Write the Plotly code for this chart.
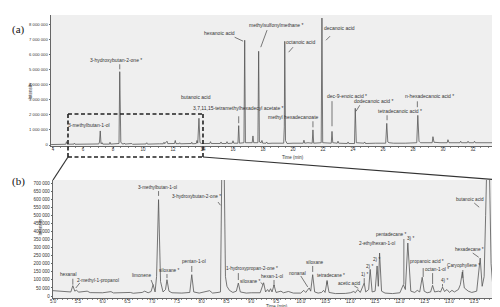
import plotly.graph_objects as go

# ---------------- data ----------------
# (a) full run: retention time (min) and intensity (millions of counts)
a_time = [3.87, 4.50, 4.85, 4.90, 4.95, 5.40, 5.43, 5.47, 6.20, 6.23, 6.26,
          7.05, 7.10, 7.15, 7.20, 7.28, 7.32, 7.77, 7.80, 7.84,
          8.40, 8.45, 8.52, 8.60, 8.72, 8.75, 8.80, 9.22, 9.25, 9.30,
          10.20, 10.25, 10.30, 11.10, 11.35, 11.40, 11.45, 11.55, 11.60, 11.65,
          12.10, 12.15, 12.20, 12.42, 12.45, 12.50, 13.22, 13.25, 13.30,
          13.55, 13.60, 13.65, 13.73, 13.80, 13.90,
          14.45, 14.50, 14.55, 15.15, 15.20, 15.25, 15.55, 15.60, 15.65,
          15.95, 16.00, 16.05, 16.33, 16.38, 16.43, 16.73, 16.78, 16.83,
          17.28, 17.33, 17.38, 17.66, 17.71, 17.76, 17.88, 17.93, 17.98,
          18.20, 18.25, 18.30, 18.60, 19.00, 19.38, 19.42, 19.45, 19.50, 19.55, 19.60,
          20.00, 20.68, 20.73, 20.78, 21.00, 21.28, 21.33, 21.38,
          21.88, 21.93, 21.98, 22.55, 22.60, 22.65, 22.95, 23.00, 23.05,
          23.62, 23.67, 23.72, 24.10, 24.15, 24.22, 24.73, 24.78, 24.83,
          25.50, 26.18, 26.25, 26.32, 26.40, 26.70, 27.50,
          28.25, 28.32, 28.40, 28.50, 29.28, 29.33, 29.40, 29.80,
          30.28, 30.33, 30.40, 31.13, 31.18, 31.23, 31.62, 31.67, 31.72,
          32.05, 32.10, 32.15, 33.00, 33.87]
a_intensity_m = [0.03, 0.04, 0.05, 0.22, 0.05, 0.06, 0.12, 0.05, 0.05, 0.08, 0.05,
                 0.07, 0.20, 0.93, 0.08, 0.15, 0.06, 0.06, 0.18, 0.06,
                 0.10, 4.85, 0.20, 0.08, 0.07, 0.13, 0.06, 0.06, 0.10, 0.05,
                 0.07, 0.15, 0.06, 0.08, 0.08, 0.18, 0.08, 0.20, 0.25, 0.09,
                 0.10, 0.30, 0.09, 0.09, 0.15, 0.08, 0.10, 0.18, 0.08,
                 0.10, 0.30, 0.12, 1.77, 0.15, 0.10,
                 0.10, 0.22, 0.10, 0.10, 0.20, 0.10, 0.10, 0.22, 0.10,
                 0.12, 0.28, 0.12, 0.12, 1.28, 0.12, 0.15, 6.93, 0.15,
                 0.15, 0.60, 0.15, 0.15, 6.20, 0.20, 0.15, 0.30, 0.12,
                 0.12, 0.20, 0.10, 0.12, 0.10, 0.12, 1.20, 6.86, 0.30, 0.15, 0.10,
                 0.12, 0.12, 0.32, 0.12, 0.15, 0.12, 1.00, 0.12,
                 0.15, 8.40, 0.15, 0.12, 0.90, 0.15, 0.12, 0.25, 0.12,
                 0.10, 0.20, 0.10, 0.10, 2.43, 0.15, 0.12, 0.20, 0.10,
                 0.12, 0.12, 1.43, 0.20, 0.15, 0.12, 0.12,
                 0.15, 1.96, 0.25, 0.15, 0.15, 0.55, 0.18, 0.15,
                 0.15, 0.35, 0.15, 0.15, 0.25, 0.15, 0.15, 0.25, 0.15,
                 0.15, 0.25, 0.15, 0.15, 0.15]

# (b) zoom 5-14 min: retention time (min) and intensity (counts)
b_time = [5.00, 5.10, 5.25, 5.36, 5.40, 5.44, 5.47, 5.52, 5.69, 5.75, 6.00,
          6.17, 6.22, 6.50, 6.56, 6.62, 6.80, 6.85, 6.92, 6.98, 7.02, 7.06,
          7.09, 7.13, 7.17, 7.22, 7.27, 7.30, 7.34, 7.40, 7.60, 7.76, 7.80, 7.84,
          7.95, 8.16, 8.22, 8.33, 8.38, 8.41, 8.45, 8.48, 8.51, 8.56, 8.63,
          8.70, 8.74, 8.78, 8.90, 9.00, 9.10, 9.18, 9.25, 9.29, 9.33, 9.36,
          9.39, 9.42, 9.46, 9.50, 9.60, 9.65, 9.75, 9.85, 10.00, 10.06, 10.10,
          10.17, 10.20, 10.24, 10.28, 10.35, 10.42, 10.46, 10.49, 10.53, 10.57,
          10.70, 10.90, 11.00, 11.07, 11.10, 11.15, 11.20, 11.28, 11.31, 11.37,
          11.40, 11.44, 11.50, 11.54, 11.565, 11.59, 11.63, 11.70, 11.85, 12.00,
          12.07, 12.11, 12.16, 12.22, 12.30, 12.35, 12.40, 12.45, 12.49, 12.55,
          12.62, 12.66, 12.70, 12.78, 12.82, 12.86, 12.90, 12.95, 13.00, 13.05,
          13.10, 13.18, 13.22, 13.26, 13.30, 13.38, 13.45, 13.55, 13.62, 13.66,
          13.70, 13.73, 13.76, 13.80, 13.84, 13.87, 13.92, 13.96, 14.02]
b_intensity = [33000, 30000, 27000, 25000, 64000, 30000, 36000, 24000, 30000, 21000, 20000,
               27000, 19000, 18000, 22000, 17000, 22000, 30000, 20000, 28000, 70000, 25000,
               120000, 597000, 90000, 25000, 40000, 101000, 30000, 20000, 18000, 22000, 132000, 25000,
               18000, 33000, 18000, 22000, 25000, 900000, 900000, 120000, 60000, 35000, 22000,
               30000, 80000, 25000, 18000, 20000, 22000, 20000, 82000, 25000, 40000, 26000,
               45000, 25000, 68000, 22000, 30000, 20000, 28000, 18000, 18000, 35000, 22000,
               50000, 30000, 132000, 25000, 18000, 22000, 35000, 22000, 91000, 22000,
               15000, 16000, 20000, 28000, 20000, 40000, 22000, 80000, 25000, 40000,
               165000, 25000, 30000, 186000, 60000, 266000, 30000, 18000, 15000, 20000,
               70000, 40000, 328000, 30000, 22000, 35000, 25000, 116000, 30000, 20000,
               25000, 66000, 25000, 30000, 25000, 55000, 28000, 40000, 22000, 35000,
               25000, 40000, 70000, 149000, 50000, 30000, 22000, 30000, 235000, 60000,
               120000, 500000, 900000, 900000, 200000, 80000, 40000, 60000, 120000]

a_ytick_vals = [0, 1e6, 2e6, 3e6, 4e6, 5e6, 6e6, 7e6, 8e6]
a_ytick_text = ["0", "1 000 000", "2 000 000", "3 000 000", "4 000 000",
                "5 000 000", "6 000 000", "7 000 000", "8 000 000"]
a_xtick_vals = [4, 6, 8, 10, 12, 14, 16, 18, 20, 22, 24, 26, 28, 30, 32]
b_ytick_vals = [0, 50000, 100000, 150000, 200000, 250000, 300000, 350000,
                400000, 450000, 500000, 550000, 600000, 650000, 700000]
b_ytick_text = ["0", "50 000", "100 000", "150 000", "200 000", "250 000", "300 000",
                "350 000", "400 000", "450 000", "500 000", "550 000", "600 000",
                "650 000", "700 000"]
b_xtick_vals = [5.0, 5.5, 6.0, 6.5, 7.0, 7.5, 8.0, 8.5, 9.0, 9.5, 10.0, 10.5,
                11.0, 11.5, 12.0, 12.5, 13.0, 13.5, 14.0]
b_xtick_text = ["5.0", "5.5", "6.0", "6.5", "7.0", "7.5", "8.0", "8.5", "9.0", "9.5",
                "10.0", "10.5", "11.0", "11.5", "12.0", "12.5", "13.0", "13.5", "14"]

# labels (a): text, label x, label y (M), leader x0, y0, x1, y1 (None = no leader)
a_labels = [
    ("3-methylbutan-1-ol", 6.40, 1.30, None),
    ("3-hydroxybutan-2-one *", 8.23, 5.61, (8.45, 5.34, 8.45, 5.01)),
    ("butanoic acid", 13.53, 3.16, None),
    ("3,7,11,15-tetramethylhexadecyl acetate *", 16.37, 2.43, (16.38, 1.90, 16.38, 1.44)),
    ("hexanoic acid", 15.07, 7.40, (16.11, 7.13, 16.67, 6.87)),
    ("methylsulfonylmethane *", 18.93, 7.93, (18.27, 7.60, 17.85, 6.47)),
    ("octanoic acid", 20.53, 6.80, (20.00, 6.47, 19.71, 6.14)),
    ("methyl hexadecanoate", 20.00, 1.83, (21.33, 1.57, 21.33, 1.17)),
    ("decanoic acid", 23.07, 7.73, (22.47, 7.20, 22.20, 6.93)),
    ("dec-9-enoic acid *", 23.57, 3.23, (22.60, 2.90, 22.60, 1.24)),
    ("dodecanoic acid *", 25.37, 2.90, (24.45, 2.63, 24.20, 2.23)),
    ("tetradecanoic acid *", 27.10, 2.23, (26.27, 1.97, 26.27, 1.64)),
    ("n-hexadecanoic acid *", 29.10, 3.23, (28.29, 2.89, 28.29, 2.50)),
]
# labels (b): text, label x, label y (counts), leader
b_labels = [
    ("hexanal", 5.31, 132000, (5.40, 107000, 5.40, 70000)),
    ("2-methyl-1-propanol", 5.91, 93000, (5.54, 80500, 5.46, 49600)),
    ("limonene", 6.78, 124000, (6.98, 99000, 7.02, 68000)),
    ("3-methylbutan-1-ol", 7.10, 675000, (7.13, 650000, 7.13, 620000)),
    ("siloxane *", 7.36, 157000, (7.30, 136000, 7.30, 111000)),
    ("pentan-1-ol", 7.85, 211000, (7.80, 186000, 7.80, 149000)),
    ("3-hydroxybutan-2-one *", 7.89, 618000, (8.33, 582000, 8.38, 562000)),
    ("1-hydroxypropan-2-one *", 9.02, 169000, (8.74, 142000, 8.74, 99000)),
    ("siloxane *", 8.99, 87000, (9.19, 84000, 9.24, 70000)),
    ("hexan-1-ol", 9.42, 122000, (9.46, 99000, 9.46, 62000)),
    ("nonanal", 9.93, 142000, (10.00, 124000, 10.14, 56000)),
    ("siloxane", 10.28, 209000, (10.24, 186000, 10.24, 149000)),
    ("tetradecane *", 10.60, 126000, (10.53, 99000, 10.53, 74000)),
    ("acetic acid", 10.98, 80500, (11.08, 62000, 11.16, 48000)),
    ("1) *", 11.28, 132000, (11.28, 111000, 11.28, 80000)),
    ("2) *", 11.39, 185000, None),
    ("2) *", 11.53, 225000, None),
    ("2-ethylhexan-1-ol", 11.53, 328000, None),
    ("pentadecane *", 11.83, 384000, (12.08, 353000, 12.08, 72000)),
    ("3) *", 12.21, 359000, None),
    ("propanoic acid *", 12.54, 211000, (12.47, 173000, 12.47, 118000)),
    ("octan-1-ol *", 12.74, 163000, (12.66, 142000, 12.66, 74000)),
    ("4) *", 12.89, 95000, (12.86, 74000, 12.86, 58000)),
    ("Caryophyllene *", 13.29, 190000, (13.27, 161000, 13.27, 111000)),
    ("hexadecane *", 13.41, 287000, (13.47, 266000, 13.59, 240000)),
    ("butanoic acid", 13.42, 597000, (13.50, 576000, 13.60, 550000)),
]

# ---------------- layout geometry ----------------
W, H = 500, 307
A_XDOM = [43 / W, 493 / W]
A_YDOM = [1 - 138 / H, 1 - 7 / H]
A_XRANGE = [3.867, 33.867]
A_YRANGE = [-0.066e6, 8.6e6]
B_XDOM = [45 / W, 492 / W]
B_YDOM = [1 - 290 / H, 1 - 172 / H]
B_XRANGE = [5.0, 14.02]
B_YRANGE = [-12400, 718600]

FONT = "Liberation Sans, Arial, sans-serif"
TXT = "#333333"
TRACE = "#555555"

fig = go.Figure()
fig.add_trace(go.Scatter(x=a_time, y=[v * 1e6 for v in a_intensity_m],
                         mode="lines", line=dict(color=TRACE, width=0.8),
                         xaxis="x", yaxis="y", hoverinfo="skip", showlegend=False))
fig.add_trace(go.Scatter(x=b_time, y=b_intensity,
                         mode="lines", line=dict(color=TRACE, width=0.8),
                         xaxis="x2", yaxis="y2", hoverinfo="skip", showlegend=False))


def axis_style(size, standoff=0):
    return dict(showgrid=False, zeroline=False, showline=True, linecolor="#666666",
                linewidth=0.8, ticks="outside", ticklen=1.5, tickwidth=0.6,
                tickcolor="#666666", automargin=False, ticklabelstandoff=standoff,
                tickfont=dict(family=FONT, size=size, color=TXT))


fig.update_layout(
    width=W, height=H, margin=dict(l=0, r=0, t=0, b=0),
    paper_bgcolor="white", plot_bgcolor="#efefef", showlegend=False,
    xaxis=dict(domain=A_XDOM, range=A_XRANGE, anchor="y", tickvals=a_xtick_vals,
               minor=dict(dtick=0.5, ticks="outside", ticklen=1, tickcolor="#888888"),
               **axis_style(4.5, -3)),
    yaxis=dict(domain=A_YDOM, range=A_YRANGE, anchor="x", tickvals=a_ytick_vals,
               ticktext=a_ytick_text, **axis_style(4.2)),
    xaxis2=dict(domain=B_XDOM, range=B_XRANGE, anchor="y2", tickvals=b_xtick_vals,
                ticktext=b_xtick_text,
                minor=dict(dtick=0.1, ticks="outside", ticklen=1, tickcolor="#888888"),
                **axis_style(4.5, -3)),
    yaxis2=dict(domain=B_YDOM, range=B_YRANGE, anchor="x2", tickvals=b_ytick_vals,
                ticktext=b_ytick_text, **axis_style(4.5)),
)

annotations = []
shapes = []


def add_labels(labels, xref, yref, scale, size):
    for text, lx, ly, lead in labels:
        annotations.append(dict(text=text, x=lx, y=ly * scale, xref=xref, yref=yref,
                                showarrow=False, xanchor="center", yanchor="middle",
                                font=dict(family=FONT, size=size, color=TXT)))
        if lead:
            x0, y0, x1, y1 = lead
            shapes.append(dict(type="line", xref=xref, yref=yref, x0=x0, y0=y0 * scale,
                               x1=x1, y1=y1 * scale, line=dict(color="#444444", width=0.7)))


add_labels(a_labels, "x", "y", 1e6, 5)
add_labels(b_labels, "x2", "y2", 1, 4.7)

# axis titles and panel labels
annotations += [
    dict(text="Intensity", x=17 / W, y=1 - 72 / H, xref="paper", yref="paper",
         textangle=-90, showarrow=False, font=dict(family=FONT, size=4.5, color=TXT)),
    dict(text="Intensity", x=27 / W, y=1 - 230 / H, xref="paper", yref="paper",
         textangle=-90, showarrow=False, font=dict(family=FONT, size=4.5, color=TXT)),
    dict(text="Time (min)", x=20.0, y=1 - 149 / H, xref="x", yref="paper",
         showarrow=False, font=dict(family=FONT, size=4.5, color=TXT)),
    dict(text="Time (min)", x=(B_XDOM[0] + B_XDOM[1]) / 2, y=1 - 301.5 / H, xref="paper",
         yref="paper", showarrow=False, borderpad=0,
         font=dict(family=FONT, size=4.5, color=TXT)),
    dict(text="(a)", x=2 / W, y=1 - 13 / H, xref="paper", yref="paper", xanchor="left",
         showarrow=False, font=dict(family="Liberation Serif, Times New Roman, serif",
                                    size=11, color="#111111")),
    dict(text="(b)", x=2 / W, y=1 - 173 / H, xref="paper", yref="paper", xanchor="left",
         showarrow=False, font=dict(family="Liberation Serif, Times New Roman, serif",
                                    size=11, color="#111111")),
]


def ax_px(t):
    return A_XDOM[0] + (t - A_XRANGE[0]) / (A_XRANGE[1] - A_XRANGE[0]) * (A_XDOM[1] - A_XDOM[0])


def ay_py(v):
    return A_YDOM[0] + (v - A_YRANGE[0]) / (A_YRANGE[1] - A_YRANGE[0]) * (A_YDOM[1] - A_YDOM[0])


box_x0, box_x1 = ax_px(B_XRANGE[0]), ax_px(14.0)
box_top = ay_py(2.05e6)
box_bot = 1 - 149 / H
dash = dict(color="#222222", width=1.6, dash="4px,2.5px")
shapes += [
    dict(type="line", xref="paper", yref="paper", x0=box_x0, y0=box_top, x1=box_x1, y1=box_top, line=dash),
    dict(type="line", xref="paper", yref="paper", x0=box_x0, y0=box_bot, x1=box_x1, y1=box_bot, line=dash),
    dict(type="line", xref="paper", yref="paper", x0=box_x0, y0=box_top, x1=box_x0, y1=box_bot, line=dash),
    dict(type="line", xref="paper", yref="paper", x0=box_x1, y0=box_top, x1=box_x1, y1=box_bot, line=dash),
    dict(type="line", xref="paper", yref="paper", x0=box_x0, y0=box_bot, x1=B_XDOM[0], y1=B_YDOM[1],
         line=dict(color="#333333", width=1.2)),
    dict(type="line", xref="paper", yref="paper", x0=box_x1, y0=box_bot, x1=B_XDOM[1], y1=B_YDOM[1],
         line=dict(color="#333333", width=1.2)),
]

fig.update_layout(annotations=annotations, shapes=shapes)
fig.write_html("out.html")
